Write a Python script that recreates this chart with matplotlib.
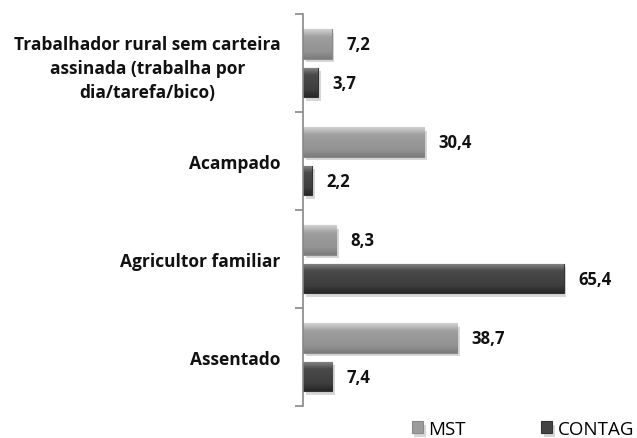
import matplotlib
matplotlib.use("Agg")
import matplotlib.pyplot as plt
import matplotlib.patheffects as pe
from matplotlib.colors import LinearSegmentedColormap
import numpy as np

categories = ["Trabalhador rural sem carteira\nassinada (trabalha por\ndia/tarefa/bico)",
              "Acampado", "Agricultor familiar", "Assentado"]
mst = [7.2, 30.4, 8.3, 38.7]
contag = [3.7, 2.2, 65.4, 7.4]
series_names = ["MST", "CONTAG"]

plt.rcParams['font.family'] = ['Open Sans', 'DejaVu Sans']

fig = plt.figure(figsize=(6.37, 4.39), dpi=100)
ax = fig.add_axes([303/637, 1-407/439, (582-303)/637, (407-15)/439])

y = np.arange(len(categories))
h = 0.3
shadow = [pe.SimplePatchShadow(offset=(2, -2.5), shadow_rgbFace='#b0b0b0', alpha=0.5), pe.Normal()]
b1 = ax.barh(y - 0.195, mst, height=h, color='#9c9c9c', edgecolor='#8a8a8a', linewidth=0.8,
             label=series_names[0], path_effects=shadow)
b2 = ax.barh(y + 0.2, contag, height=h, color='#444444', edgecolor='#333333', linewidth=0.8,
             label=series_names[1], path_effects=shadow)

cm1 = LinearSegmentedColormap.from_list('m', ['#d2d2d2', '#a0a0a0', '#989898', '#939393', '#7c7c7c'])
cm2 = LinearSegmentedColormap.from_list('c', ['#8a8a8a', '#4a4a4a', '#444444', '#3e3e3e', '#262626'])
grad = np.linspace(0, 1, 64).reshape(-1, 1)
ax.set_ylim(len(categories) - 0.5, -0.5)
ax.set_xlim(0, 70)
for bars, cm in ((b1, cm1), (b2, cm2)):
    for bar in bars:
        x0, y0 = bar.get_x(), bar.get_y()
        w, hh = bar.get_width(), bar.get_height()
        im = ax.imshow(grad, cmap=cm, aspect='auto', extent=(x0, x0 + w, y0 + hh, y0),
                       interpolation='bilinear', zorder=bar.get_zorder() + 0.1)
        im.set_clip_path(bar)
ax.set_ylim(len(categories) - 0.5, -0.5)
ax.set_xlim(0, 70)

for bars, vals in ((b1, mst), (b2, contag)):
    for bar, v in zip(bars, vals):
        ax.text(bar.get_width() + 3.6, bar.get_y() + bar.get_height()/2,
                f"{v:.1f}".replace('.', ','), va='center', ha='left',
                fontsize=12, fontweight='bold', color='#111111')

ax.set_yticks(y)
ax.set_yticklabels(categories, fontsize=12.5, fontweight='bold', ha='right', multialignment='center',
                   linespacing=1.42, color='#111111')
ax.tick_params(axis='y', which='major', length=0, pad=16)
ax.set_yticks(np.arange(-0.5, len(categories)), minor=True)
ax.tick_params(axis='y', which='minor', length=6, color='#888888', width=1.2)
ax.set_xticks([])
for s in ['top', 'right', 'bottom']:
    ax.spines[s].set_visible(False)
ax.spines['left'].set_color('#888888')
ax.spines['left'].set_linewidth(1.2)

leg = fig.legend(handles=[b1, b2], labels=series_names, loc='center', bbox_to_anchor=(523/637, 1-430/439),
                 ncol=2, frameon=False, fontsize=13.5, handlelength=0.6, handleheight=0.6,
                 columnspacing=4.0, handletextpad=0.3, borderpad=0)

fig.savefig("out.png", dpi=100)
